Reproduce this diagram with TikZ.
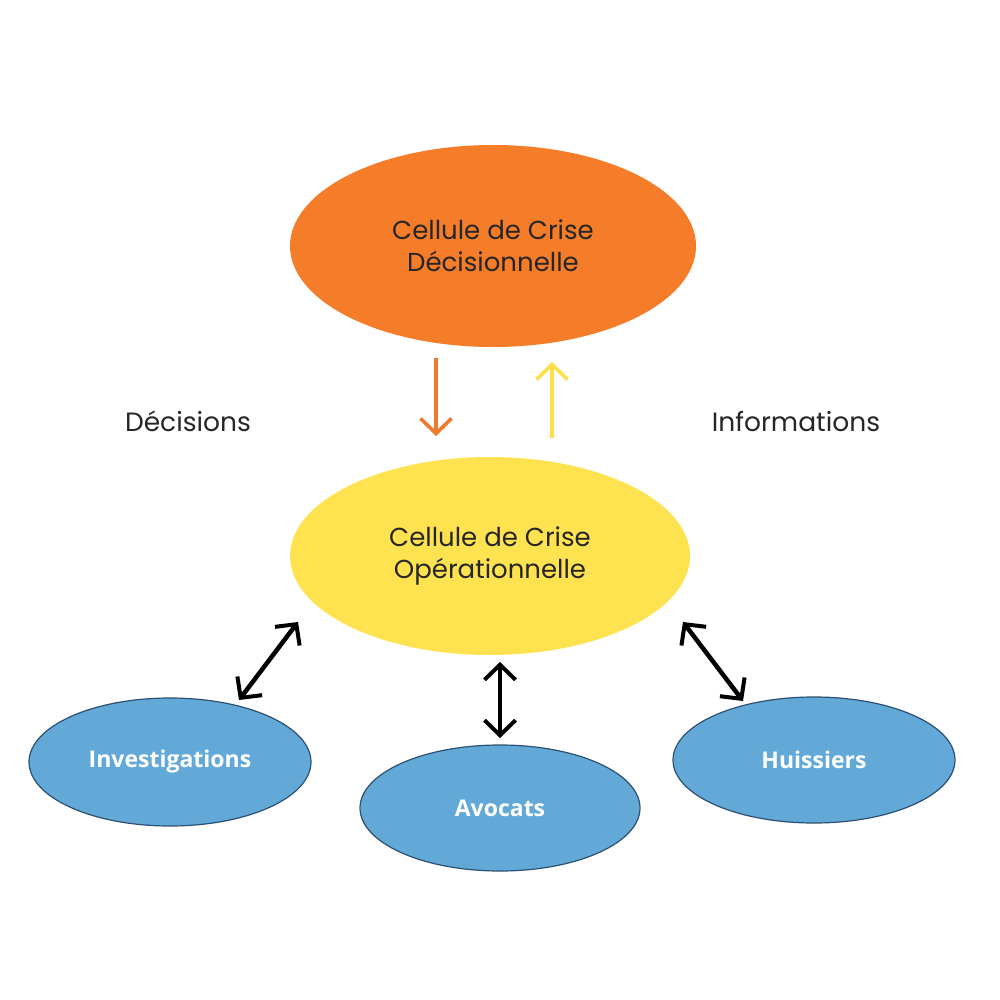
\documentclass[tikz,border=0pt]{standalone}
\usepackage{fontspec}
\setmainfont{Poppins}
\newfontfamily\boldsans{Open Sans}
\usetikzlibrary{shapes.geometric,arrows.meta}
\definecolor{cOrange}{HTML}{F57C28}
\definecolor{cYellow}{HTML}{FFE24F}
\definecolor{cBlue}{HTML}{62A9D7}
\definecolor{cBlueEdge}{HTML}{2D5072}
\definecolor{cArrowO}{HTML}{EF7A2E}
\definecolor{cArrowY}{HTML}{FFE04A}
\tikzset{
  big/.style={ellipse, inner sep=0pt, font=\fontsize{26}{32}\selectfont, text=black!85, align=center},
  small/.style={ellipse, inner sep=0pt, fill=cBlue, draw=cBlueEdge, line width=1.2pt,
     minimum width=282, minimum height=128, text=white, font=\boldsans\bfseries\fontsize{23}{28}\selectfont},
  lbl/.style={font=\fontsize{26.5}{30}\selectfont, text=black!85},
  flow/.style={line width=3.8pt, -{Straight Barb[length=15pt,width=31pt,line width=3.6pt]}},
  link/.style={line width=4.5pt, black, {Straight Barb[length=15pt,width=31pt,line width=4pt]}-{Straight Barb[length=15pt,width=31pt,line width=4pt]}}
}
\begin{document}
\begin{tikzpicture}[x=1pt,y=-1pt]
\useasboundingbox (0,0) rectangle (1000,1000);
\fill[white] (0,0) rectangle (1000,1000);
\node[big, fill=cOrange, minimum width=406, minimum height=202] (dec) at (493,246) {Cellule de Crise\\Décisionnelle};
\node[big, fill=cYellow, minimum width=400, minimum height=198] (op) at (490,556) {Cellule de Crise\\Opérationnelle};
\node[small] (inv) at (170,762) {Investigations};
\node[small, minimum width=280, minimum height=126] (avo) at (500,808) {Avocats};
\node[small, minimum width=282, minimum height=126] (hui) at (814,760) {Huissiers};
\node[lbl] (ldec) at (188,421) {Décisions};
\node[lbl] (linf) at (796,421) {Informations};
\coordinate (o1) at (436,358);
\coordinate (o2) at (436,436);
\coordinate (y1) at (552,438);
\coordinate (y2) at (552,362);
\draw[flow, cArrowO] (o1) -- (o2);
\draw[flow, cArrowY] (y1) -- (y2);
\coordinate (a1) at (298,622);
\coordinate (a2) at (239,700);
\coordinate (b1) at (500,662);
\coordinate (b2) at (500,738);
\coordinate (c1) at (683,622);
\coordinate (c2) at (743,701);
\draw[link] (a1) -- (a2);
\draw[link] (b1) -- (b2);
\draw[link] (c1) -- (c2);
\end{tikzpicture}
\end{document}
